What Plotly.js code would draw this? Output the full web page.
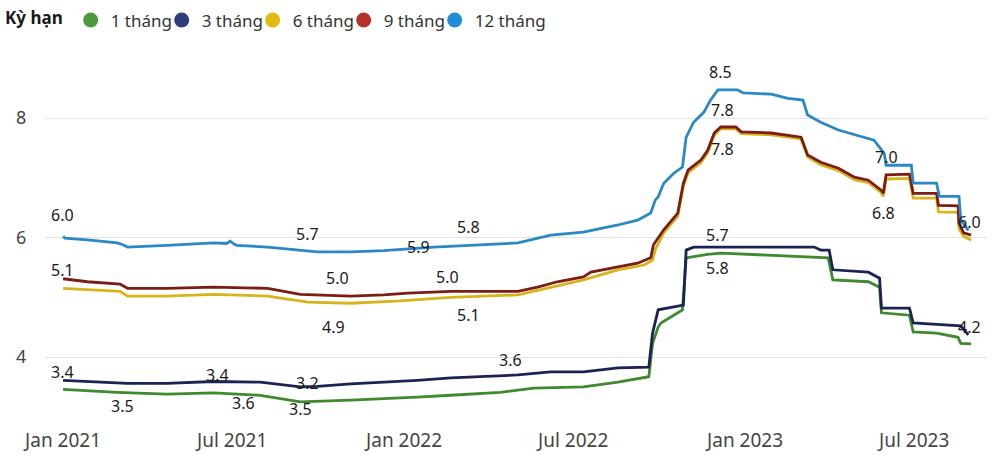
<!DOCTYPE html>
<html>
<head>
<meta charset="utf-8">
<script src="https://cdn.plot.ly/plotly-3.0.1.min.js"></script>
<style>html,body{margin:0;padding:0;background:#fff}#chart{width:1000px;height:457px}</style>
</head>
<body>
<div id="chart"></div>
<script>
// ---- data ----
const seriesNames = ["1 tháng", "3 tháng", "6 tháng", "9 tháng", "12 tháng"];

const d1 = ["2021-01-01","2021-02-28","2021-04-22","2021-06-11","2021-07-31","2021-09-12","2021-11-05","2021-12-10","2022-01-15","2022-02-20","2022-04-14","2022-05-20","2022-07-12","2022-08-18","2022-09-20","2022-09-24","2022-09-30","2022-10-03","2022-10-26","2022-10-30","2022-11-22","2022-12-06","2023-03-31","2023-04-05","2023-05-13","2023-05-25","2023-05-27","2023-06-26","2023-06-30","2023-07-25","2023-08-17","2023-08-20","2023-08-31"];
const v1 = [3.46,3.41,3.38,3.40,3.36,3.25,3.28,3.30,3.33,3.36,3.41,3.48,3.50,3.58,3.67,4.23,4.50,4.57,4.79,5.66,5.72,5.74,5.66,5.29,5.26,5.17,4.74,4.70,4.42,4.40,4.33,4.23,4.22];

const d3 = ["2021-01-01","2021-03-11","2021-04-22","2021-06-11","2021-07-31","2021-09-12","2021-09-30","2021-11-05","2022-01-15","2022-02-20","2022-05-03","2022-06-07","2022-07-12","2022-08-18","2022-09-20","2022-09-24","2022-09-30","2022-10-24","2022-10-27","2022-10-30","2022-11-07","2023-03-16","2023-03-23","2023-04-01","2023-04-05","2023-05-13","2023-05-25","2023-05-27","2023-06-26","2023-06-30","2023-07-25","2023-08-20","2023-08-28"];
const v3 = [3.61,3.56,3.56,3.59,3.58,3.50,3.51,3.55,3.61,3.65,3.70,3.75,3.75,3.82,3.83,4.40,4.79,4.85,4.87,5.79,5.84,5.84,5.79,5.79,5.46,5.42,5.32,4.82,4.82,4.57,4.54,4.52,4.37];

const d6 = ["2021-01-01","2021-03-03","2021-03-11","2021-04-22","2021-06-11","2021-08-08","2021-09-20","2021-11-05","2021-12-28","2022-02-20","2022-05-03","2022-06-07","2022-07-12","2022-08-18","2022-09-15","2022-09-24","2022-09-27","2022-10-06","2022-10-21","2022-10-27","2022-11-01","2022-11-15","2022-11-22","2022-11-29","2022-12-06","2022-12-22","2022-12-28","2023-01-29","2023-03-02","2023-03-09","2023-03-23","2023-04-11","2023-04-28","2023-05-13","2023-05-27","2023-05-29","2023-06-01","2023-06-26","2023-06-30","2023-07-25","2023-07-27","2023-08-17","2023-08-18","2023-08-23","2023-08-31"];
const v6 = [5.15,5.10,5.02,5.02,5.05,5.02,4.92,4.90,4.94,5.00,5.04,5.17,5.29,5.46,5.54,5.62,5.80,6.08,6.36,6.86,7.08,7.26,7.42,7.71,7.82,7.82,7.74,7.72,7.65,7.35,7.22,7.12,6.97,6.92,6.75,6.69,6.98,6.99,6.66,6.66,6.43,6.42,6.15,6.02,5.96];

const d9 = ["2021-01-01","2021-01-27","2021-03-03","2021-03-11","2021-04-22","2021-06-11","2021-08-08","2021-09-12","2021-11-05","2021-12-10","2022-01-05","2022-02-20","2022-05-03","2022-05-24","2022-06-14","2022-07-12","2022-07-20","2022-08-18","2022-09-08","2022-09-22","2022-09-25","2022-10-06","2022-10-21","2022-10-27","2022-11-01","2022-11-15","2022-11-22","2022-11-29","2022-12-06","2022-12-22","2022-12-28","2023-01-29","2023-03-02","2023-03-09","2023-03-23","2023-04-11","2023-04-28","2023-05-13","2023-05-27","2023-05-29","2023-06-01","2023-06-26","2023-06-30","2023-07-25","2023-07-27","2023-08-17","2023-08-18","2023-08-23","2023-08-31"];
const v9 = [5.31,5.26,5.22,5.15,5.15,5.17,5.15,5.05,5.02,5.04,5.07,5.10,5.10,5.17,5.26,5.34,5.42,5.51,5.57,5.66,5.88,6.13,6.41,6.91,7.13,7.30,7.46,7.75,7.85,7.85,7.77,7.75,7.68,7.38,7.26,7.16,7.01,6.96,6.79,6.74,7.05,7.06,6.74,6.74,6.54,6.53,6.24,6.08,6.04];

const d12 = ["2021-01-01","2021-01-03","2021-01-27","2021-02-28","2021-03-06","2021-03-11","2021-04-22","2021-06-11","2021-06-25","2021-06-29","2021-07-03","2021-07-06","2021-08-08","2021-09-12","2021-09-30","2021-11-05","2021-12-10","2022-02-02","2022-03-02","2022-05-03","2022-06-07","2022-07-12","2022-08-18","2022-09-08","2022-09-22","2022-09-27","2022-09-30","2022-10-06","2022-10-17","2022-10-26","2022-10-30","2022-11-07","2022-11-18","2022-11-25","2022-12-03","2022-12-24","2022-12-30","2023-01-29","2023-02-16","2023-03-04","2023-03-09","2023-03-23","2023-04-11","2023-04-28","2023-05-19","2023-05-30","2023-06-01","2023-06-28","2023-06-30","2023-07-25","2023-07-28","2023-08-18","2023-08-20","2023-08-28"];
const v12 = [6.02,5.99,5.96,5.91,5.88,5.84,5.87,5.91,5.90,5.94,5.89,5.87,5.84,5.78,5.76,5.76,5.78,5.84,5.86,5.91,6.04,6.09,6.21,6.29,6.41,6.63,6.68,6.91,7.08,7.18,7.68,7.93,8.10,8.30,8.47,8.47,8.42,8.40,8.33,8.30,8.05,7.93,7.80,7.72,7.63,7.41,7.21,7.21,6.91,6.91,6.69,6.69,6.29,6.12];

// data labels as printed on the chart
const labelText = ["6.0","5.1","3.4","3.5","3.4","3.6","3.2","3.5","5.7","5.0","4.9","5.9","5.8","5.0","5.1","3.6","8.5","7.8","7.8","5.7","5.8","7.0","6.8","6.0","4.2"];
const labelDate = ["2020-12-31","2020-12-31","2020-12-31","2021-03-06","2021-06-15","2021-07-13","2021-09-20","2021-09-12","2021-09-20","2021-10-22","2021-10-17","2022-01-16","2022-03-11","2022-02-17","2022-03-11","2022-04-25","2022-12-06","2022-12-08","2022-12-08","2022-12-03","2022-12-03","2023-06-01","2023-05-29","2023-08-29","2023-08-29"];
const labelValue = [6.38,5.46,3.75,3.18,3.70,3.23,3.56,3.13,6.06,5.32,4.50,5.84,6.18,5.34,4.70,3.95,8.77,8.13,7.48,6.04,5.49,7.35,6.41,6.26,4.50];

const yTicks = [4, 6, 8];

// ---- styles ----
const lineColors = ["#3f8a2f", "#1b2352", "#d9b31c", "#7c1d14", "#2a89c4"];
const legendColors = ["#4c9a3c", "#2f3d7a", "#e2b90f", "#b5322a", "#1f8dd6"];
const FONT = "Noto Sans, Open Sans, sans-serif";

const xs = [d1, d3, d6, d9, d12];
const ys = [v1, v3, v6, v9, v12];

const traces = [];
seriesNames.forEach((n, i) => {
  traces.push({
    type: "scatter", mode: "lines", x: xs[i], y: ys[i], name: n,
    line: {color: lineColors[i], width: 2.8}, showlegend: false, hoverinfo: "x+y+name"
  });
});
seriesNames.forEach((n, i) => {
  traces.push({
    type: "scatter", mode: "markers", x: [null], y: [null], name: n,
    marker: {color: legendColors[i], size: 15, symbol: "circle"}, showlegend: true
  });
});
// spacer so the last legend label is not clipped by the fixed entry width
traces.push({
  type: "scatter", mode: "markers", x: [null], y: [null], name: " ",
  marker: {color: "rgba(0,0,0,0)", size: 1}, showlegend: true, hoverinfo: "skip"
});

const annotations = labelText.map((t, i) => ({
  x: labelDate[i], y: labelValue[i], xref: "x", yref: "y", text: t, showarrow: false,
  font: {family: FONT, size: 16, color: "#1a1a1a"}
}));

const layout = {
  width: 1000, height: 457,
  margin: {l: 45, r: 13, t: 50, b: 37, autoexpand: false},
  paper_bgcolor: "#fff", plot_bgcolor: "#fff",
  font: {family: FONT, size: 16, color: "#333"},
  showlegend: true,
  legend: {
    orientation: "h", x: -0.0446, xanchor: "left", y: 1.08, yanchor: "middle",
    entrywidth: 46, entrywidthmode: "pixels",
    title: {text: "<b>Kỳ hạn</b>", font: {family: FONT, size: 17, color: "#1a1a1a"}},
    font: {family: FONT, size: 17, color: "#333"}, itemclick: false, tracegroupgap: 0
  },
  xaxis: {
    type: "date", range: ["2020-12-12 16:00", "2023-09-17"],
    tick0: "2021-01-01", dtick: "M6", tickformat: "%b %Y",
    showgrid: false, zeroline: false, showline: false,
    ticks: "outside", ticklen: 3, tickcolor: "rgba(0,0,0,0)",
    tickfont: {family: FONT, size: 19, color: "#444"}
  },
  yaxis: {
    range: [2.946, 9.139], tickvals: yTicks, ticktext: yTicks.map(String),
    showgrid: true, gridcolor: "#e3e3e3", gridwidth: 1, zeroline: false, showline: false,
    ticks: "outside", ticklen: 14, tickcolor: "rgba(0,0,0,0)",
    tickfont: {family: FONT, size: 18, color: "#444"}
  },
  annotations: annotations
};

Plotly.newPlot("chart", traces, layout, {displayModeBar: false, staticPlot: true});
</script>
</body>
</html>
